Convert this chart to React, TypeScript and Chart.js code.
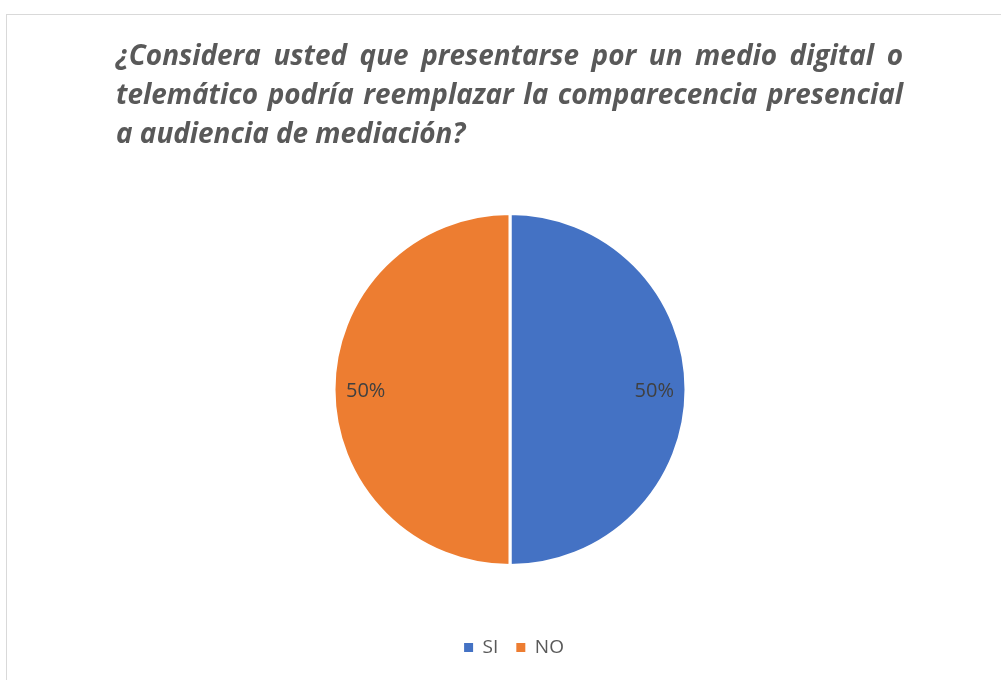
import React, { useEffect, useRef } from "react";
import { Chart, registerables } from "chart.js";

Chart.register(...registerables);

const CATEGORIES: string[] = ["SI", "NO"];
const VALUES: number[] = [50, 50];
const COLORS: string[] = ["#4472C4", "#ED7D31"];
const TITLE_LINES: string[] = [
  "¿Considera usted que presentarse por un medio digital o",
  "telemático podría reemplazar la comparecencia presencial",
  "a audiencia de mediación?",
];

const justifiedTitle = {
  id: "justifiedTitle",
  afterDraw(chart: any, _args: any, opts: any) {
    const ctx: CanvasRenderingContext2D = chart.ctx;
    const lines: string[] = opts.lines || [];
    ctx.save();
    ctx.font = `italic bold ${opts.size}px ${opts.family}`;
    ctx.fillStyle = opts.color;
    ctx.textBaseline = "alphabetic";
    ctx.textAlign = "left";
    const width = opts.right - opts.left;
    let maxNatural = 0;
    lines.forEach((l, i) => {
      if (i < lines.length - 1) maxNatural = Math.max(maxNatural, ctx.measureText(l).width);
    });
    const sx = Math.min(1, (width * opts.fill) / maxNatural);
    const spaceW = ctx.measureText(" ").width * sx;
    lines.forEach((line, i) => {
      const words = line.split(" ");
      const y = opts.top + i * opts.lineHeight;
      const last = i === lines.length - 1;
      const ws = words.map((w) => ctx.measureText(w).width * sx);
      const total = ws.reduce((a, b) => a + b, 0);
      const gap = last || words.length < 2 ? spaceW : (width - total) / (words.length - 1);
      let x = opts.left;
      words.forEach((w, j) => {
        ctx.save();
        ctx.translate(x, y);
        ctx.scale(sx, 1);
        ctx.fillText(w, 0, 0);
        ctx.restore();
        x += ws[j] + gap;
      });
    });
    ctx.restore();
  },
};

const pctLabels = {
  id: "pctLabels",
  afterDatasetsDraw(chart: any, _args: any, opts: any) {
    const ctx: CanvasRenderingContext2D = chart.ctx;
    const meta = chart.getDatasetMeta(0);
    const data: number[] = chart.data.datasets[0].data;
    const total = data.reduce((a, b) => a + b, 0);
    ctx.save();
    ctx.font = `${opts.size}px ${opts.family}`;
    ctx.fillStyle = opts.color;
    ctx.textAlign = "center";
    ctx.textBaseline = "middle";
    meta.data.forEach((arc: any, i: number) => {
      const p = arc.getProps(["x", "y", "startAngle", "endAngle", "outerRadius"], true);
      const mid = (p.startAngle + p.endAngle) / 2;
      const r = p.outerRadius * opts.radiusFraction;
      const txt = Math.round((data[i] / total) * 100) + "%";
      ctx.fillText(txt, p.x + Math.cos(mid) * r, p.y + Math.sin(mid) * r + opts.dy);
    });
    ctx.restore();
  },
};

const legendShift = {
  id: "legendShift",
  afterLayout(chart: any, _args: any, opts: any) {
    if (chart.legend) {
      chart.legend.left += opts.dx;
      chart.legend.right += opts.dx;
    }
  },
};

export default function App() {
  const ref = useRef<HTMLCanvasElement | null>(null);
  useEffect(() => {
    if (!ref.current) return;
    const chart = new Chart(ref.current, {
      type: "pie",
      data: {
        labels: CATEGORIES,
        datasets: [
          {
            data: VALUES,
            backgroundColor: COLORS,
            borderColor: "#ffffff",
            borderWidth: 3,
            radius: 176,
          } as any,
        ],
      },
      options: {
        responsive: false,
        animation: false,
        devicePixelRatio: 1,
        layout: { padding: { top: 159, bottom: 13, left: 20, right: 1 } },
        plugins: {
          tooltip: { enabled: false },
          title: { display: false },
          legend: {
            display: true,
            position: "bottom",
            labels: {
              boxWidth: 9,
              boxHeight: 9,
              padding: 18,
              color: "#595959",
              font: { family: "'Open Sans', sans-serif", size: 19 },
              generateLabels: (chart: any) => {
                const base = (Chart as any).overrides.pie.plugins.legend.labels.generateLabels(chart);
                return base.map((it: any) => ({ ...it, lineWidth: 0, strokeStyle: "rgba(0,0,0,0)" }));
              },
            },
          },
          legendShift: { dx: 4 },
          justifiedTitle: {
            lines: TITLE_LINES,
            left: 116,
            right: 903,
            top: 65,
            lineHeight: 39,
            size: 28,
            fill: 0.985,
            family: "'Open Sans', sans-serif",
            color: "#595959",
          },
          pctLabels: {
            size: 20,
            family: "'Open Sans', sans-serif",
            color: "#404040",
            radiusFraction: 0.82,
            dy: 2,
          },
        } as any,
      },
      plugins: [justifiedTitle, pctLabels, legendShift],
    });
    return () => chart.destroy();
  }, []);

  return (
    <div
      style={{
        position: "fixed",
        left: 0,
        top: 0,
        width: 1001,
        height: 680,
        overflow: "hidden",
        background: "#ffffff",
      }}
    >
      <div
        style={{
          position: "absolute",
          left: 6,
          top: 14,
          width: 1020,
          height: 720,
          border: "1px solid #d9d9d9",
          boxSizing: "border-box",
        }}
      />
      <canvas
        ref={ref}
        width={1001}
        height={680}
        style={{ position: "absolute", left: 0, top: 0, width: 1001, height: 680 }}
      />
    </div>
  );
}
